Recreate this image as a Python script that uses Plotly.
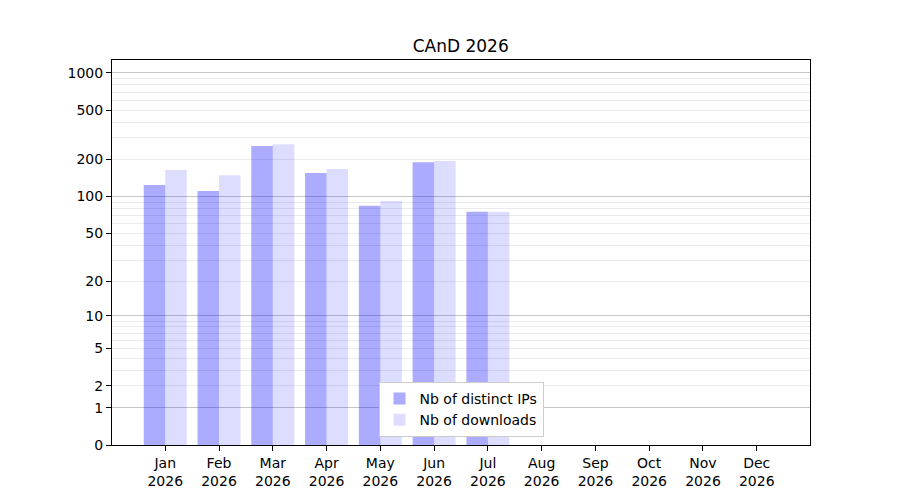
import numpy as np
import plotly.graph_objects as go

months = ["Jan", "Feb", "Mar", "Apr", "May", "Jun", "Jul", "Aug", "Sep", "Oct", "Nov", "Dec"]
year = "2026"
ips = [124, 111, 257, 155, 84, 190, 75, 0, 0, 0, 0, 0]
downloads = [164, 149, 266, 167, 92, 194, 75, 0, 0, 0, 0, 0]
tick_labels = [0, 1, 2, 5, 10, 20, 50, 100, 200, 500, 1000]
major_grid = [1, 10, 100, 1000]
minor_grid = [m * d for d in (1, 10, 100) for m in range(2, 10)]


def tr(v):
    return np.log10(1 + np.asarray(v, dtype=float))


x = list(range(len(months)))
fig = go.Figure()
fig.add_trace(go.Bar(x=x, y=tr(ips), name="Nb of distinct IPs",
                     marker=dict(color="rgba(0,0,255,0.33)", line=dict(width=0))))
fig.add_trace(go.Bar(x=x, y=tr(downloads), name="Nb of downloads",
                     marker=dict(color="rgba(0,0,255,0.135)", line=dict(width=0))))
# invisible trace on yaxis2 for major grid
fig.add_trace(go.Scatter(x=[0], y=[0], yaxis="y2", mode="markers",
                         marker=dict(opacity=0), showlegend=False, hoverinfo="skip"))

yr = [0, 3.105]
fig.update_layout(
    width=900, height=500,
    margin=dict(l=104, r=98, t=52, b=63),
    paper_bgcolor="white", plot_bgcolor="white",
    font=dict(family="DejaVu Sans", size=14, color="black"),
    title=dict(text="CAnD 2026", x=0.503, xanchor="center", y=0.924, yanchor="middle",
               font=dict(size=17)),
    barmode="group", bargap=0.2, bargroupgap=0,
    xaxis=dict(range=[-0.99, 11.99], tickmode="array", tickvals=x,
               ticktext=[f"{m}<br>{year}" for m in months],
               ticks="outside", ticklen=5, tickcolor="black", showgrid=False,
               showline=True, linecolor="black", linewidth=1, mirror=True, zeroline=False),
    yaxis=dict(range=yr, tickmode="array", tickvals=tr(tick_labels),
               ticktext=[str(t) for t in tick_labels],
               ticks="outside", ticklen=5, tickcolor="black", showgrid=False,
               showline=True, linecolor="black", linewidth=1, mirror=True, zeroline=False,
               minor=dict(tickmode="array", tickvals=tr(minor_grid), showgrid=True,
                          gridcolor="#ebebeb", gridwidth=1, ticks="")),
    yaxis2=dict(range=yr, overlaying="y", tickmode="array", tickvals=tr(major_grid),
                showticklabels=False, ticks="", showgrid=True, gridcolor="#c6c6c6",
                gridwidth=1, zeroline=False, showline=False),
    legend=dict(x=0.5, xanchor="center", y=0.021, yanchor="bottom",
                bgcolor="white", bordercolor="#cccccc", borderwidth=1,
                font=dict(size=14), tracegroupgap=0),
    showlegend=True,
)
fig.write_html("out.html")
